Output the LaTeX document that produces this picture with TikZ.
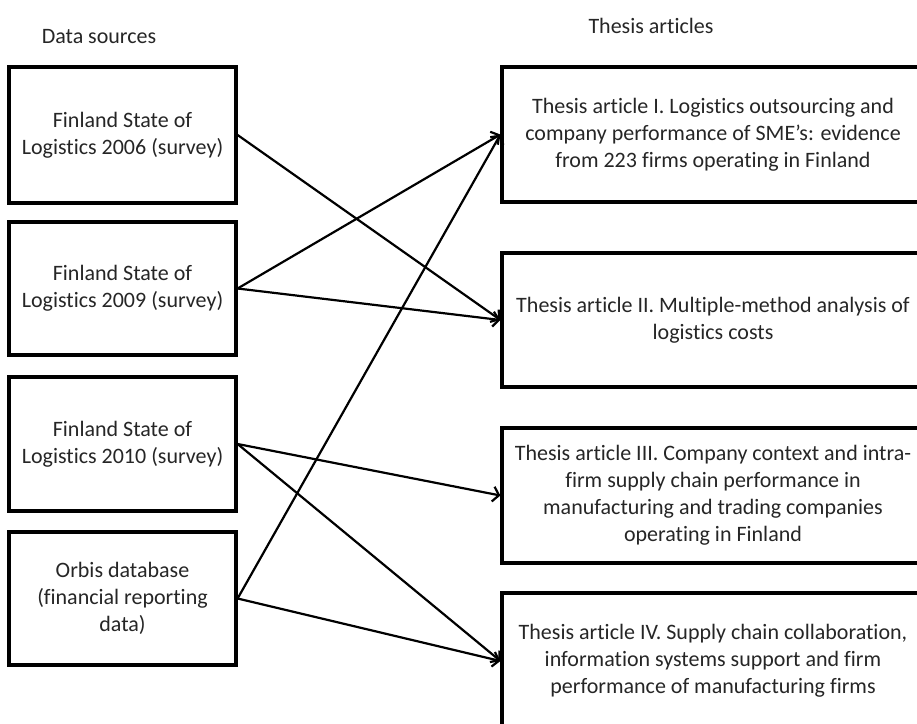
\documentclass[tikz,border=0pt]{standalone}
\usepackage{fontspec}
\setmainfont[Ligatures=NoCommon]{Carlito}
\usetikzlibrary{arrows.meta}
\begin{document}
\begin{tikzpicture}[x=1pt,y=-1pt,
  box/.style={draw, line width=3.2pt, align=center, font=\fontsize{22}{27}\selectfont, inner sep=0pt, text=black!85},
  src/.style={box, minimum width=227pt},
  art/.style={box, minimum width=422pt},
  link/.style={line width=2.2pt, -{Straight Barb[length=6pt,width=15pt,line width=2.2pt]}},
  title/.style={font=\fontsize{22}{27}\selectfont, anchor=base, text=black!85}]
\useasboundingbox (0,0) rectangle (917,723);
\clip (0,0) rectangle (917,723);
\fill[white] (0,0) rectangle (917,723);

\node[title] (t1) at (99,43) {Data sources};
\node[title] (t2) at (651,33) {Thesis articles};

\node[src, minimum height=136pt] (s1) at (122.5,135) {Finland State of\\Logistics 2006 (survey)};
\node[src, minimum height=133pt] (s2) at (122.5,288.5) {Finland State of\\Logistics 2009 (survey)};
\node[src, minimum height=134pt] (s3) at (122.5,444) {Finland State of\\Logistics 2010 (survey)};
\node[src, minimum height=133pt] (s4) at (122.5,598.5) {Orbis database\\(financial reporting\\data)};

\node[art, minimum height=135pt] (a1) at (713,134.5) {Thesis article I. Logistics outsourcing and\\company performance of SME’s: evidence\\from 223 firms operating in Finland};
\node[art, minimum height=134pt] (a2) at (713,320) {Thesis article II. Multiple-method analysis of\\logistics costs};
\node[art, minimum height=135pt] (a3) at (713,495.5) {Thesis article III. Company context and intra-\\firm supply chain performance in\\manufacturing and trading companies\\operating in Finland};
\node[art, minimum height=136pt] (a4) at (713,661) {Thesis article IV. Supply chain collaboration,\\information systems support and firm\\performance of manufacturing firms};

\draw[link] (s1.east) -- (a2.west);
\draw[link] (s2.east) -- (a1.west);
\draw[link] (s2.east) -- (a2.west);
\draw[link] (s3.east) -- (a3.west);
\draw[link] (s3.east) -- (a4.west);
\draw[link] (s4.east) -- (a1.west);
\draw[link] (s4.east) -- (a4.west);
\end{tikzpicture}
\end{document}
